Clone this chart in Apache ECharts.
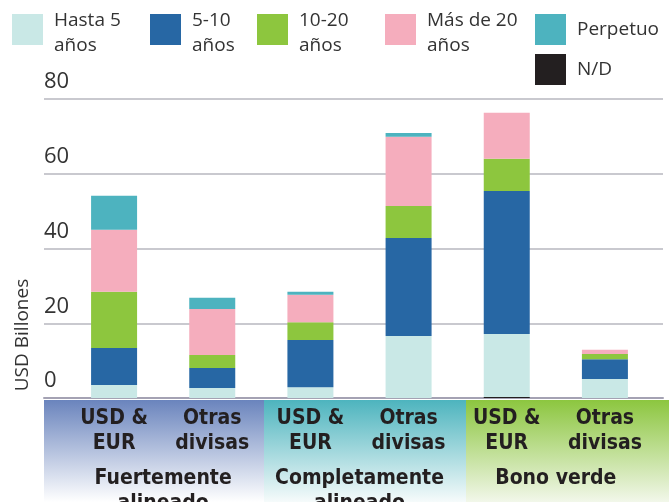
<!DOCTYPE html>
<html>
<head>
<meta charset="utf-8">
<script src="https://cdn.jsdelivr.net/npm/echarts@6/dist/echarts.min.js"></script>
<style>
html,body{margin:0;padding:0;background:#fff;}
#chart{width:669px;height:502px;}
</style>
</head>
<body>
<div id="chart"></div>
<script>
// ---- Data ----
const categories = ['USD &\nEUR', 'Otras\ndivisas', 'USD &\nEUR', 'Otras\ndivisas', 'USD &\nEUR', 'Otras\ndivisas'];
const groups = ['Fuertemente\nalineado', 'Completamente\nalineado', 'Bono verde'];
const seriesNames = ['N/D', 'Hasta 5\naños', '5-10\naños', '10-20\naños', 'Más de 20\naños', 'Perpetuo'];
const nd        = [0,    0,    0,    0,    0.3,  0];
const hasta5    = [3.5,  2.7,  2.9,  16.6, 16.8, 5.1];
const anos5_10  = [9.9,  5.3,  12.6, 26.2, 38.3, 5.3];
const anos10_20 = [15.0, 3.5,  4.8,  8.6,  8.6,  1.4];
const mas20     = [16.6, 12.3, 7.3,  18.5, 12.3, 1.1];
const perpetuo  = [9.1,  3.0,  0.8,  1.0,  0,    0];
const yTicks = [0, 20, 40, 60, 80];
const yAxisName = 'USD Billones';

const seriesData = [nd, hasta5, anos5_10, anos10_20, mas20, perpetuo];
const colors = ['#231f20', '#c9e8e6', '#2767a4', '#8dc63e', '#f5adbd', '#4db3bf'];

const chart = echarts.init(document.getElementById('chart'), null, {renderer: 'canvas'});

// two-line legend items: square drawn in the upper part of a taller icon box
const tallIcon = 'path://M0,0L31,0L31,31L0,31Z M0,38L0.01,38Z';
const legendPos = {
  'Hasta 5\naños': [12, 8, true],
  '5-10\naños': [150, 8, true],
  '10-20\naños': [257, 8, true],
  'Más de 20\naños': [385, 8, true],
  'Perpetuo': [535, 14, false],
  'N/D': [535, 54, false]
};
const legendOrder = ['Hasta 5\naños', '5-10\naños', '10-20\naños', 'Más de 20\naños', 'Perpetuo', 'N/D'];
const legends = legendOrder.map(n => ({
  data: [n],
  left: legendPos[n][0],
  top: legendPos[n][1],
  padding: 0,
  icon: legendPos[n][2] ? tallIcon : 'rect',
  itemWidth: 31,
  itemHeight: legendPos[n][2] ? 38 : 31,
  selectedMode: false,
  textStyle: {
    fontFamily: 'Open Sans',
    fontSize: 19,
    color: '#333333',
    lineHeight: 25,
    padding: [0, 0, 0, 6]
  }
}));

const labelStyle = {
  fontFamily: '"DejaVu Sans Condensed", "Liberation Sans Narrow", sans-serif',
  fontWeight: 'bold',
  fontSize: 21,
  lineHeight: 25,
  color: '#231f20'
};

const option = {
  animation: false,
  legend: legends,
  graphic: [
    {
      type: 'rect', z: -10, shape: {x: 44, y: 400, width: 220, height: 102},
      style: {fill: new echarts.graphic.LinearGradient(0, 0, 0, 1, [{offset: 0, color: '#6a84bd'}, {offset: 1, color: '#ffffff'}])}
    },
    {
      type: 'rect', z: -10, shape: {x: 264, y: 400, width: 202, height: 102},
      style: {fill: new echarts.graphic.LinearGradient(0, 0, 0, 1, [{offset: 0, color: '#4db4be'}, {offset: 1, color: '#f6fbfb'}])}
    },
    {
      type: 'rect', z: -10, shape: {x: 466, y: 400, width: 203, height: 102},
      style: {fill: new echarts.graphic.LinearGradient(0, 0, 0, 1, [{offset: 0, color: '#8cc63f'}, {offset: 1, color: '#f2f7ea'}])}
    },
    {
      type: 'text', x: 23, y: 335, rotation: Math.PI / 2,
      style: {text: yAxisName, fontFamily: 'Open Sans', fontSize: 19, fill: '#333333', align: 'center', verticalAlign: 'middle'}
    }
  ],
  grid: [
    {left: 44, right: 6, top: 99, bottom: 104, containLabel: false, outerBoundsMode: 'none'},
    {left: 65, right: 15, top: 99, bottom: 104, containLabel: false, outerBoundsMode: 'none'}
  ],
  xAxis: [
    {
      gridIndex: 0, type: 'category', data: categories,
      axisLine: {show: true, lineStyle: {color: '#a4a2b3', width: 2}},
      axisTick: {show: false}, axisLabel: {show: false}, splitLine: {show: false}
    },
    {
      gridIndex: 1, type: 'category', data: categories,
      axisLine: {show: false}, axisTick: {show: false},
      axisLabel: Object.assign({margin: 8, interval: 0}, labelStyle)
    },
    {
      gridIndex: 1, type: 'category', data: groups, position: 'bottom', offset: 60,
      axisLine: {show: false}, axisTick: {show: false},
      axisLabel: Object.assign({margin: 8, interval: 0}, labelStyle)
    }
  ],
  yAxis: [
    {
      gridIndex: 0, type: 'value', min: yTicks[0], max: yTicks[yTicks.length - 1], interval: yTicks[1] - yTicks[0],
      axisLine: {show: false}, axisTick: {show: false},
      splitLine: {show: true, lineStyle: {color: '#c9c9cf', width: 2}},
      axisLabel: {
        inside: true, margin: 0, verticalAlign: 'bottom', padding: [0, 0, 6, 0],
        fontFamily: 'Open Sans', fontSize: 22, color: '#333333'
      }
    },
    {
      gridIndex: 1, type: 'value', min: yTicks[0], max: yTicks[yTicks.length - 1], interval: yTicks[1] - yTicks[0],
      show: false
    }
  ],
  series: seriesNames.map((name, i) => ({
    name: name,
    type: 'bar',
    stack: 'total',
    xAxisIndex: 1,
    yAxisIndex: 1,
    barWidth: 46,
    data: seriesData[i],
    itemStyle: {color: colors[i]},
    emphasis: {disabled: true}
  }))
};
chart.setOption(option);
</script>
</body>
</html>
